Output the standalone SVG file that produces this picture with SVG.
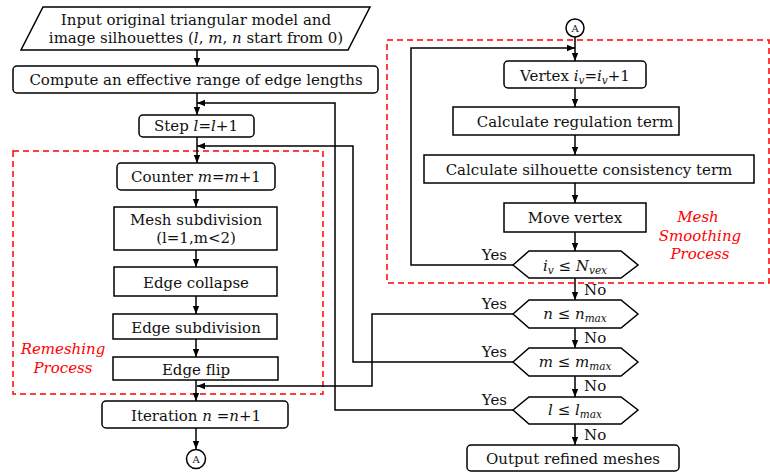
<svg xmlns="http://www.w3.org/2000/svg" width="770" height="473" viewBox="0 0 770 473">
<defs>
<marker id="ah" viewBox="0 0 10 10" refX="10" refY="5" markerWidth="8" markerHeight="8" markerUnits="userSpaceOnUse" orient="auto">
<path d="M0,1 L10,5 L0,9 z" fill="#000"/>
</marker>
<style>
.box{fill:#fff;stroke:#000;stroke-width:1.5}
.t{font-family:"DejaVu Serif","Liberation Serif",serif;font-size:15px;fill:#111;text-anchor:middle}
.i{font-style:italic}
.sub{font-size:10.5px;font-style:italic}
.lab{font-family:"DejaVu Serif","Liberation Serif",serif;font-size:15px;fill:#111}
.red{fill:none;stroke:#f00;stroke-width:1.5;stroke-dasharray:6,4}
.rt{font-family:"DejaVu Serif","Liberation Serif",serif;font-size:15px;font-style:italic;fill:#f00;text-anchor:middle}
.c{fill:none;stroke:#000;stroke-width:1.5}
.ca{fill:none;stroke:#000;stroke-width:1.5;marker-end:url(#ah)}
</style>
</defs>
<rect width="770" height="473" fill="#fff"/>
<g id="regions">
<rect class="red" x="13" y="151" width="310" height="243"/>
<text class="rt" x="63" y="354">Remeshing</text>
<text class="rt" x="63" y="373">Process</text>
<rect class="red" x="387" y="40" width="382" height="243"/>
<text class="rt" x="698" y="222">Mesh</text>
<text class="rt" x="700" y="241">Smoothing</text>
<text class="rt" x="700" y="259">Process</text>
</g>
<g id="connectors">
<path class="ca" d="M197,50 V66"/>
<path class="ca" d="M197,93 V115"/>
<path class="ca" d="M197,137 V163"/>
<path class="ca" d="M196,190 V207"/>
<path class="ca" d="M196,250 V267"/>
<path class="ca" d="M196,296 V314"/>
<path class="ca" d="M196,339 V357"/>
<path class="ca" d="M196,380 V401"/>
<path class="ca" d="M196,428 V449"/>
<path class="ca" d="M575,37 V61"/>
<path class="ca" d="M575,88 V107"/>
<path class="ca" d="M575,135 V155"/>
<path class="ca" d="M575,183 V203"/>
<path class="ca" d="M575,232 V251"/>
<path class="ca" d="M575,278 V300"/>
<path class="ca" d="M575,328 V348"/>
<path class="ca" d="M575,376 V397"/>
<path class="ca" d="M575,424 V445"/>
<path class="ca" d="M513,265 H411 V48 H575"/>
<path class="ca" d="M513,314 H372 V386 H197"/>
<path class="ca" d="M513,362 H353 V146 H197"/>
<path class="ca" d="M513,410 H335 V103 H197"/>
<text class="lab" x="507" y="260" text-anchor="end">Yes</text>
<text class="lab" x="507" y="309" text-anchor="end">Yes</text>
<text class="lab" x="507" y="357" text-anchor="end">Yes</text>
<text class="lab" x="507" y="405" text-anchor="end">Yes</text>
<text class="lab" x="584" y="295">No</text>
<text class="lab" x="584" y="343">No</text>
<text class="lab" x="584" y="391">No</text>
<text class="lab" x="584" y="440">No</text>
</g>
<g id="input">
<path class="box" d="M43,7 H370 L348,50 H21 Z"/>
<text class="t" x="196" y="25">Input original triangular model and</text>
<text class="t" x="196" y="43">image silhouettes (<tspan class="i">l</tspan>, <tspan class="i">m</tspan>, <tspan class="i">n</tspan> start from 0)</text>
</g>
<g id="compute">
<rect class="box" x="13" y="66" width="365" height="27" rx="4"/>
<text class="t" x="196" y="85">Compute an effective range of edge lengths</text>
</g>
<g id="step">
<rect class="box" x="139" y="115" width="115" height="22" rx="4"/>
<text class="t" x="196" y="131">Step <tspan class="i">l</tspan>=<tspan class="i">l</tspan>+1</text>
</g>
<g id="counter">
<rect class="box" x="117" y="163" width="158" height="27" rx="4"/>
<text class="t" x="196" y="182">Counter <tspan class="i">m</tspan>=<tspan class="i">m</tspan>+1</text>
</g>
<g id="meshsub">
<rect class="box" x="114" y="207" width="163" height="43"/>
<text class="t" x="196" y="225">Mesh subdivision</text>
<text class="t" x="196" y="243">(l=1,m&lt;2)</text>
</g>
<g id="collapse">
<rect class="box" x="114" y="267" width="163" height="29"/>
<text class="t" x="196" y="288">Edge collapse</text>
</g>
<g id="edgesub">
<rect class="box" x="113" y="314" width="164" height="25"/>
<text class="t" x="196" y="333">Edge subdivision</text>
</g>
<g id="flip">
<rect class="box" x="113" y="357" width="165" height="23"/>
<text class="t" x="196" y="375">Edge flip</text>
</g>
<g id="iteration">
<rect class="box" x="102" y="401" width="186" height="27" rx="4"/>
<text class="t" x="196" y="421">Iteration <tspan class="i">n</tspan> =<tspan class="i">n</tspan>+1</text>
</g>
<g id="connA1">
<circle class="box" cx="196" cy="459" r="9.5"/>
<text class="t" x="196" y="463" style="font-size:10px">A</text>
</g>
<g id="connA2">
<circle class="box" cx="575" cy="28" r="9"/>
<text class="t" x="575" y="32" style="font-size:10px">A</text>
</g>
<g id="vertex">
<rect class="box" x="504" y="61" width="142" height="27" rx="4"/>
<text class="t" x="575" y="81">Vertex <tspan class="i">i</tspan><tspan class="sub" dy="3">v</tspan><tspan dy="-3">=</tspan><tspan class="i">i</tspan><tspan class="sub" dy="3">v</tspan><tspan dy="-3">+1</tspan></text>
</g>
<g id="regulation">
<rect class="box" x="453" y="107" width="226" height="28"/>
<text class="t" x="575" y="127">Calculate regulation term</text>
</g>
<g id="silhouette">
<rect class="box" x="424" y="155" width="330" height="28"/>
<text class="t" x="589" y="175">Calculate silhouette consistency term</text>
</g>
<g id="move">
<rect class="box" x="504" y="203" width="142" height="29"/>
<text class="t" x="575" y="223">Move vertex</text>
</g>
<g id="dec_iv">
<path class="box" d="M513,265 L529,251 H621 L638,265 L621,278 H529 Z"/>
<text class="t" x="575" y="271"><tspan class="i">i</tspan><tspan class="sub" dy="3">v</tspan><tspan dy="-3"> ≤ </tspan><tspan class="i">N</tspan><tspan class="sub" dy="3">vex</tspan></text>
</g>
<g id="dec_n">
<path class="box" d="M513,314 L529,300 H621 L638,314 L621,328 H529 Z"/>
<text class="t" x="575" y="319"><tspan class="i">n</tspan> ≤ <tspan class="i">n</tspan><tspan class="sub" dy="3">max</tspan></text>
</g>
<g id="dec_m">
<path class="box" d="M513,362 L529,348 H621 L638,362 L621,376 H529 Z"/>
<text class="t" x="575" y="367"><tspan class="i">m</tspan> ≤ <tspan class="i">m</tspan><tspan class="sub" dy="3">max</tspan></text>
</g>
<g id="dec_l">
<path class="box" d="M513,410 L529,397 H621 L638,410 L621,424 H529 Z"/>
<text class="t" x="575" y="415"><tspan class="i">l</tspan> ≤ <tspan class="i">l</tspan><tspan class="sub" dy="3">max</tspan></text>
</g>
<g id="output">
<rect class="box" x="467" y="445" width="212" height="26" rx="4"/>
<text class="t" x="573" y="464">Output refined meshes</text>
</g>
</svg>
